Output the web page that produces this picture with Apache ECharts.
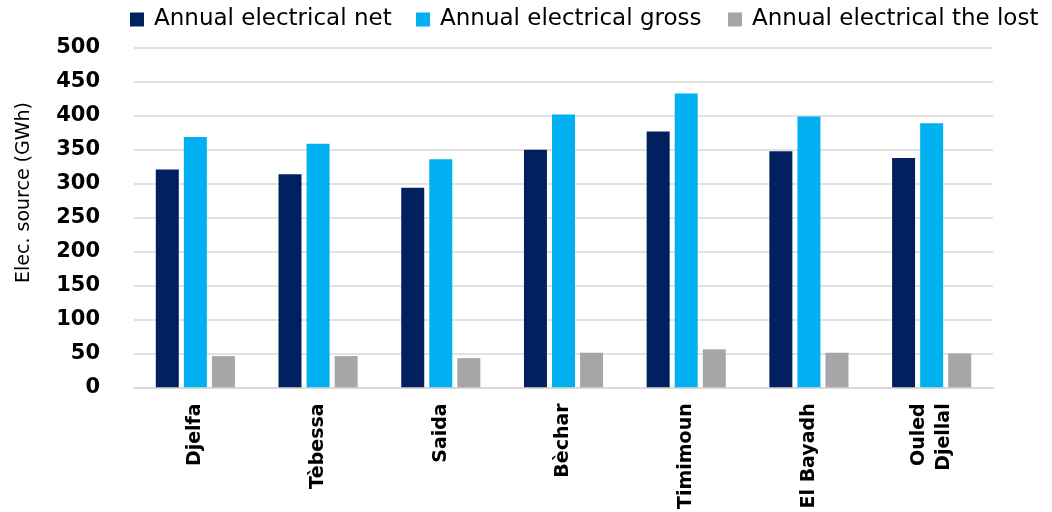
<!DOCTYPE html>
<html>
<head>
<meta charset="utf-8">
<script src="https://cdn.jsdelivr.net/npm/echarts@6/dist/echarts.min.js"></script>
<style>
  html, body { margin: 0; padding: 0; background: #fff; }
  #chart { width: 1052px; height: 512px; }
</style>
</head>
<body>
<div id="chart"></div>
<script>
// Sites along the x axis
const sites = ['Djelfa', 'Tèbessa', 'Saida', 'Bèchar', 'Timimoun', 'El Bayadh', 'Ouled\nDjellal'];

// Annual electricity per site (GWh)
const netEnergy   = [321, 314, 294, 350, 377, 348, 338];
const grossEnergy = [369, 359, 336, 402, 433, 399, 389];
const lostEnergy  = [46, 46, 43, 51, 56, 51, 50];

const seriesNames = ['Annual electrical net', 'Annual electrical gross', 'Annual electrical the lost'];
const seriesColors = ['#002060', '#00B0F0', '#A6A6A6'];

// Left edge of each legend entry
const legendLeft = [130, 416, 728];

const chart = echarts.init(document.getElementById('chart'), null, { renderer: 'canvas' });

const values = [netEnergy, grossEnergy, lostEnergy];

chart.setOption({
  animation: false,
  backgroundColor: '#ffffff',
  legend: seriesNames.map((name, i) => ({
    data: [name],
    top: 8,
    left: legendLeft[i],
    padding: 0,
    itemWidth: 14,
    itemHeight: 14,
    icon: 'rect',
    textStyle: {
      fontFamily: 'DejaVu Sans',
      fontSize: 23,
      color: '#000',
      padding: [0, 0, 0, 5]
    }
  })),
  graphic: [{
    type: 'text',
    left: 15,
    top: 102,
    rotation: Math.PI / 2,
    style: {
      text: 'Elec. source (GWh)',
      font: '19px "DejaVu Sans"',
      fill: '#000'
    }
  }],
  grid: { left: 134, right: 59, top: 48, bottom: 124 },
  xAxis: {
    type: 'category',
    data: sites,
    axisTick: { show: false },
    axisLine: { lineStyle: { color: '#D9D9D9', width: 2 } },
    axisLabel: {
      rotate: 90,
      margin: 16,
      interval: 0,
      fontFamily: 'DejaVu Sans',
      fontWeight: 'bold',
      fontSize: 19,
      color: '#000',
      lineHeight: 25
    }
  },
  yAxis: {
    type: 'value',
    min: 0,
    max: 500,
    interval: 50,
    axisLine: { show: false },
    axisTick: { show: false },
    splitLine: { lineStyle: { color: '#D9D9D9', width: 1.5 } },
    axisLabel: {
      margin: 34,
      fontFamily: 'DejaVu Sans',
      fontWeight: 'bold',
      fontSize: 21,
      color: '#000'
    }
  },
  series: seriesNames.map((name, i) => ({
    name: name,
    type: 'bar',
    data: values[i],
    barWidth: 23,
    barGap: '22%',
    itemStyle: { color: seriesColors[i] }
  }))
});
</script>
</body>
</html>
